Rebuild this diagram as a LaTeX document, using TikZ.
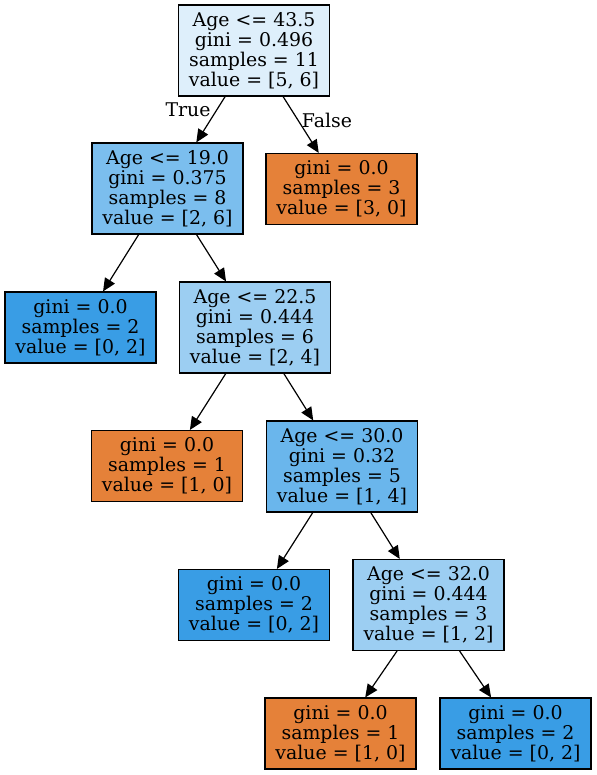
\documentclass[tikz,border=0pt]{standalone}
\usepackage{fontspec}
\setmainfont{DejaVu Serif}
\usetikzlibrary{arrows.meta}
\definecolor{cRoot}{HTML}{DEEFFB}
\definecolor{cA}{HTML}{7BBEEE}
\definecolor{cB}{HTML}{9CCEF2}
\definecolor{cC}{HTML}{6AB6EC}
\definecolor{cBlue}{HTML}{399DE5}
\definecolor{cOrange}{HTML}{E58139}
\tikzset{
  tnode/.style={draw=black, line width=1.1pt, rectangle, align=center, inner sep=0pt,
    minimum width=151pt, font=\fontsize{18.9}{20}\selectfont},
  inner4/.style={tnode, minimum height=91pt},
  leaf3/.style={tnode, minimum height=71pt},
  edge/.style={line width=1.2pt, -{Triangle[length=13pt,width=11.5pt]}},
  elabel/.style={font=\fontsize{18.9}{20}\selectfont, inner sep=0pt}
}
\begin{document}
\begin{tikzpicture}[x=1pt,y=-1pt]
\useasboundingbox (0,0) rectangle (596,775);
\node[inner4, fill=cRoot] (root) at (254,50.5) {Age <= 43.5\\gini = 0.496\\samples = 11\\value = [5, 6]};
\node[inner4, fill=cA] (n19) at (167.5,188.5) {Age <= 19.0\\gini = 0.375\\samples = 8\\value = [2, 6]};
\node[leaf3, fill=cOrange] (lF) at (341.5,189) {gini = 0.0\\samples = 3\\value = [3, 0]};
\node[leaf3, fill=cBlue] (l0) at (80.5,327.5) {gini = 0.0\\samples = 2\\value = [0, 2]};
\node[inner4, fill=cB] (n22) at (255,327.5) {Age <= 22.5\\gini = 0.444\\samples = 6\\value = [2, 4]};
\node[leaf3, fill=cOrange] (l1) at (167,466) {gini = 0.0\\samples = 1\\value = [1, 0]};
\node[inner4, fill=cC] (n30) at (342,466.5) {Age <= 30.0\\gini = 0.32\\samples = 5\\value = [1, 4]};
\node[leaf3, fill=cBlue] (l2) at (254,605) {gini = 0.0\\samples = 2\\value = [0, 2]};
\node[inner4, fill=cB] (n32) at (428.5,605) {Age <= 32.0\\gini = 0.444\\samples = 3\\value = [1, 2]};
\node[leaf3, fill=cOrange] (l3) at (340.5,733.5) {gini = 0.0\\samples = 1\\value = [1, 0]};
\node[leaf3, fill=cBlue] (l4) at (515.5,733.5) {gini = 0.0\\samples = 2\\value = [0, 2]};
\draw[edge] (root) -- (n19);
\draw[edge] (root) -- (lF);
\draw[edge] (n19) -- (l0);
\draw[edge] (n19) -- (n22);
\draw[edge] (n22) -- (l1);
\draw[edge] (n22) -- (n30);
\draw[edge] (n30) -- (l2);
\draw[edge] (n30) -- (n32);
\draw[edge] (n32) -- (l3);
\draw[edge] (n32) -- (l4);
\node[elabel] (tTrue) at (188,110) {True};
\node[elabel] (tFalse) at (327,120) {False};
\end{tikzpicture}
\end{document}
